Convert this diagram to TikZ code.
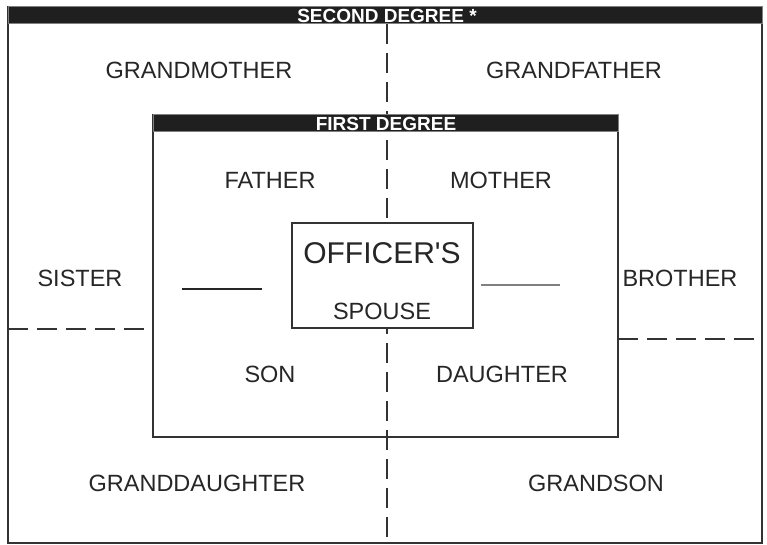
\documentclass[tikz,border=0pt]{standalone}
\usepackage{fontspec}
\setmainfont{Liberation Sans}

\begin{document}
\begin{tikzpicture}[x=1pt, y=-1pt,
    frame/.style={draw=black!80, line width=1.6pt},
    bar/.style={fill=black!88, draw=black!50, line width=1pt},
    bartext/.style={text=white, font=\fontsize{19}{20}\selectfont\bfseries},
    kin/.style={text=black!85, font=\fontsize{23.5}{26}\selectfont},
    divider/.style={draw=black!80, line width=1.4pt, dash pattern=on 20pt off 9pt}]
    \useasboundingbox (0,0) rectangle (767,545);

    % corners of the two degree boxes
    \coordinate (outerNW) at (8,7);
    \coordinate (outerSE) at (762,543);
    \coordinate (innerNW) at (153,115);
    \coordinate (innerSE) at (618,437);

    % second degree
    \draw[frame] (outerNW) rectangle (outerSE);
    \coordinate (midTop) at (387,24);
    \coordinate (midBottom) at (387,543);
    \draw[divider] (midTop) -- (midBottom);
    \coordinate (sisterW) at (8,329);
    \coordinate (sisterE) at (153,329);
    \draw[divider] (sisterW) -- (sisterE);
    \coordinate (brotherW) at (618,339);
    \coordinate (brotherE) at (762,339);
    \draw[divider] (brotherW) -- (brotherE);
    \draw[bar] (outerNW) rectangle (762,24);
    \node[bartext] (secondbar) at (387,16) {SECOND DEGREE *};

    % first degree
    \draw[frame] (innerNW) rectangle (innerSE);
    \draw[bar] (innerNW) rectangle (618,132);
    \node[bartext] (firstbar) at (386,124) {FIRST DEGREE};

    % officer and spouse
    \draw[frame, fill=white] (292,223) rectangle (473,328);
    \node[kin, font=\fontsize{30}{32}\selectfont] (officer) at (382,253) {OFFICER\textquotesingle S};
    \node[kin] (spouse) at (382,311) {SPOUSE};
    \coordinate (leftA) at (182,289);
    \coordinate (leftB) at (262,289);
    \draw[black!85, line width=1.5pt] (leftA) -- (leftB);
    \coordinate (rightA) at (481,285);
    \coordinate (rightB) at (560,285);
    \draw[black!50, line width=1.5pt] (rightA) -- (rightB);

    % relatives
    \node[kin] (grandmother) at (199,70) {GRANDMOTHER};
    \node[kin] (grandfather) at (574,70) {GRANDFATHER};
    \node[kin] (father) at (270,180) {FATHER};
    \node[kin] (mother) at (501,180) {MOTHER};
    \node[kin] (sister) at (80,278) {SISTER};
    \node[kin] (brother) at (680,278) {BROTHER};
    \node[kin] (son) at (270,374) {SON};
    \node[kin] (daughter) at (502,374) {DAUGHTER};
    \node[kin] (granddaughter) at (197,483) {GRANDDAUGHTER};
    \node[kin] (grandson) at (596,483) {GRANDSON};
\end{tikzpicture}
\end{document}
